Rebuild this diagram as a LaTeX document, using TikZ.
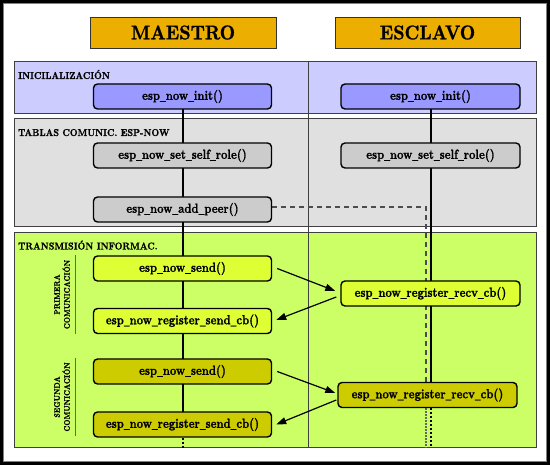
\documentclass[tikz,border=0pt]{standalone}
\usepackage{fontspec}
\usepackage{graphicx}
\newfontfamily\hdrfont{lmroman10-bold.otf}[FakeStretch=0.89,FakeBold=1]
\newfontfamily\boxfont{lmroman10-bold.otf}[FakeStretch=0.84,FakeBold=1]
\newcommand\usc{\scalebox{0.6}[1]{\_}}
\usetikzlibrary{arrows.meta}
\pgfdeclarelayer{bands}
\pgfdeclarelayer{links}
\pgfsetlayers{bands,links,main}
\definecolor{hdr}{RGB}{236,174,0}
\definecolor{inibg}{RGB}{204,204,255}
\definecolor{inibox}{RGB}{153,153,255}
\definecolor{tabbg}{RGB}{224,224,224}
\definecolor{tabbox}{RGB}{204,204,204}
\definecolor{trbg}{RGB}{204,255,102}
\definecolor{firstbox}{RGB}{221,255,51}
\definecolor{secondbox}{RGB}{204,204,0}
\begin{document}
\begin{tikzpicture}[x=1pt,y=-1pt,
  hdrbox/.style={draw=black!80, line width=0.8pt, fill=hdr, minimum width=186pt, minimum height=31pt, inner sep=0pt, font=\hdrfont\fontsize{20}{24}\selectfont},
  fnbox/.style={draw=black, line width=1.4pt, rounded corners=4pt, minimum width=178pt, minimum height=25pt, inner sep=0pt, font=\boxfont\fontsize{13.2}{15}\selectfont},
  band/.style={draw=black!75, line width=1pt},
  bandlabel/.style={anchor=base west, inner sep=0pt, font=\hdrfont\fontsize{10}{12}\selectfont},
  grouplabel/.style={rotate=90, align=center, inner sep=0pt, font=\hdrfont\fontsize{8}{10}\selectfont},
  groupline/.style={draw=black!60, line width=0.8pt},
  divider/.style={draw=black!75, line width=0.8pt},
  life/.style={line width=2pt},
  lifedot/.style={line width=2pt, dash pattern=on 2pt off 2pt},
  msg/.style={line width=1.2pt, -{Triangle[length=10pt,width=7pt]}},
  peerlink/.style={draw=black!70, line width=1.2pt, dash pattern=on 5pt off 4pt},
  peerdot/.style={draw=black!60, line width=1.2pt, dash pattern=on 1.5pt off 1.5pt}
]
\useasboundingbox (0,0) rectangle (550,465);

% frame and bands
\begin{pgfonlayer}{bands}
  \fill[white] (0,0) rectangle (550,465);
  \draw[line width=3pt] (1.5,1.5) rectangle (548.5,463.5);
  \draw[black!50, line width=0.8pt] (3.6,3.6) rectangle (546.4,461.4);
  \draw[band, fill=inibg] (14,62) rectangle (536,114);
  \draw[band, fill=tabbg] (14,119) rectangle (536,227);
  \draw[band, fill=trbg] (14,233) rectangle (536,448);
  \draw[divider] (308,62) -- (308,448);
  \draw[groupline] (75,255) -- (75,334);
  \draw[groupline] (75,358) -- (75,436);
\end{pgfonlayer}

% headers
\node[hdrbox] (hm) at (183,32.5) {MAESTRO};
\node[hdrbox, minimum width=185pt] (hs) at (427.5,32.5) {ESCLAVO};

% band labels
\node[bandlabel] (lini) at (18,79) {INICILALIZACIÓN};
\node[bandlabel] (ltab) at (18,136) {TABLAS COMUNIC. ESP-NOW};
\node[bandlabel] (ltr) at (18,249.5) {TRANSMISIÓN INFORMAC.};
\node[grouplabel] (g1) at (62,294.5) {PRIMERA\\COMUNICACIÓN};
\node[grouplabel] (g2) at (62,397) {SEGUNDA\\COMUNICACIÓN};

% master boxes
\node[fnbox, fill=inibox] (init1) at (182.5,96.5) {esp\usc now\usc init()};
\node[fnbox, fill=tabbox] (role1) at (182.5,155.5) {esp\usc now\usc set\usc self\usc role()};
\node[fnbox, fill=tabbox] (peer) at (182.5,209.5) {esp\usc now\usc add\usc peer()};
\node[fnbox, fill=firstbox] (send1) at (182.5,268.5) {esp\usc now\usc send()};
\node[fnbox, fill=firstbox] (cb1) at (182.5,321) {esp\usc now\usc register\usc send\usc cb()};
\node[fnbox, fill=secondbox] (send2) at (182.5,371.5) {esp\usc now\usc send()};
\node[fnbox, fill=secondbox] (cb2) at (182.5,424.5) {esp\usc now\usc register\usc send\usc cb()};

% slave boxes
\node[fnbox, fill=inibox, minimum width=179pt] (init2) at (430.5,96.5) {esp\usc now\usc init()};
\node[fnbox, fill=tabbox, minimum width=179pt] (role2) at (430.5,155.5) {esp\usc now\usc set\usc self\usc role()};
\node[fnbox, fill=firstbox, minimum width=179pt] (recv1) at (430.5,293.5) {esp\usc now\usc register\usc recv\usc cb()};
\node[fnbox, fill=secondbox, minimum width=179pt] (recv2) at (427.5,395) {esp\usc now\usc register\usc recv\usc cb()};

\coordinate (mEnd) at (182.5,448);
\coordinate (sEnd) at (430.5,448);
\coordinate (pTurn) at (426,207);
\coordinate (pEnd) at (426,448);

% lifelines and links
\begin{pgfonlayer}{links}
  \draw[life] (init1.center) -- (cb2.center);
  \draw[lifedot] (cb2.south) -- (mEnd);
  \draw[life] (init2.center) -- (recv2.center -| init2.center);
  \draw[lifedot] (recv2.south -| init2.center) -- (sEnd);
  \draw[peerlink] (peer.east |- pTurn) -- (pTurn) -- (recv2.north -| pTurn);
  \draw[peerdot] (recv2.south -| pTurn) -- (pEnd);
\end{pgfonlayer}

% messages
\draw[msg] ([xshift=5pt]send1.east) -- ([xshift=-5pt,yshift=2.5pt]recv1.west);
\draw[msg] ([xshift=-4pt,yshift=-3.5pt]recv1.west) -- ([xshift=4pt,yshift=1pt]cb1.east);
\draw[msg] ([xshift=5pt]send2.east) -- ([xshift=-2pt,yshift=2pt]recv2.west);
\draw[msg] ([xshift=-1pt,yshift=-5pt]recv2.west) -- ([xshift=4pt]cb2.east);
\end{tikzpicture}
\end{document}
